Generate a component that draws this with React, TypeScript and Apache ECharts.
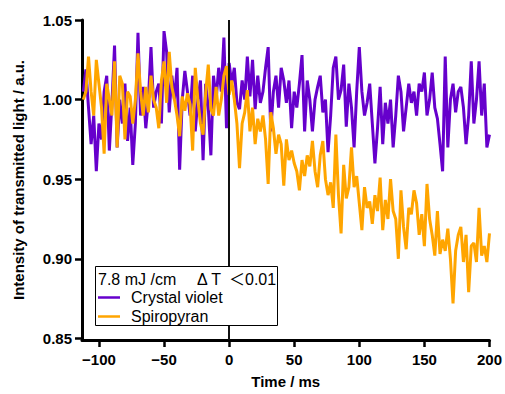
import React, { useEffect, useRef } from "react";
import * as echarts from "echarts";

// Sample times (ms)
const times: number[] = [
  -112, -110, -108, -106, -104, -102, -100, -98, -96, -94,
  -92, -90, -88, -86, -84, -82, -80, -78, -76, -74,
  -72, -70, -68, -66, -64, -62, -60, -58, -56, -54,
  -52, -50, -48, -46, -44, -42, -40, -38, -36, -34,
  -32, -30, -28, -26, -24, -22, -20, -18, -16, -14,
  -12, -10, -8, -6, -4, -2, 0, 2, 4, 6,
  8, 10, 12, 14, 16, 18, 20, 22, 24, 26,
  28, 30, 32, 34, 36, 38, 40, 42, 44, 46,
  48, 50, 52, 54, 56, 58, 60, 62, 64, 66,
  68, 70, 72, 74, 76, 78, 80, 82, 84, 86,
  88, 90, 92, 94, 96, 98, 100, 102, 104, 106,
  108, 110, 112, 114, 116, 118, 120, 122, 124, 126,
  128, 130, 132, 134, 136, 138, 140, 142, 144, 146,
  148, 150, 152, 154, 156, 158, 160, 162, 164, 166,
  168, 170, 172, 174, 176, 178, 180, 182, 184, 186,
  188, 190, 192, 194, 196, 198, 200,
];

const crystalViolet: number[] = [
  1.005, 1.019, 0.995, 0.972, 0.990, 0.955, 0.985, 0.975, 1.005, 1.015,
  0.968, 0.998, 1.034, 0.970, 1.000, 0.985, 1.010, 0.974, 0.995, 0.959,
  0.985, 1.042, 0.990, 1.008, 0.982, 1.000, 1.033, 0.995, 1.005, 1.010,
  0.985, 1.043, 1.030, 0.992, 1.015, 1.000, 1.020, 0.956, 1.000, 1.018,
  1.005, 0.990, 1.015, 0.980, 1.000, 1.012, 0.962, 1.010, 0.995, 0.965,
  1.015, 1.000, 1.020, 1.005, 1.039, 0.982, 1.023, 1.010, 1.020, 0.998,
  0.994, 1.012, 1.000, 1.027, 1.002, 1.025, 0.994, 1.015, 0.998, 1.005,
  1.020, 1.033, 0.980, 1.005, 1.015, 0.995, 1.020, 1.012, 0.998, 1.012,
  0.982, 1.005, 0.995, 1.010, 1.028, 0.980, 1.012, 1.000, 0.980, 1.000,
  1.008, 1.015, 0.992, 1.000, 0.967, 0.990, 1.020, 1.027, 1.000, 1.006,
  1.022, 0.983, 1.010, 0.995, 0.970, 1.005, 1.033, 1.005, 0.990, 0.998,
  1.010, 0.985, 0.960, 0.982, 1.008, 0.972, 0.998, 0.985, 1.000, 0.970,
  0.990, 1.015, 1.005, 0.980, 0.995, 1.010, 0.998, 1.005, 0.990, 1.010,
  1.005, 1.017, 0.990, 1.000, 1.017, 0.995, 0.988, 0.972, 0.955, 1.027,
  0.970, 1.000, 1.010, 0.992, 1.005, 1.008, 0.995, 0.972, 0.990, 1.024,
  0.985, 1.000, 1.024, 0.990, 1.010, 0.970, 0.978,
];

const spiropyran: number[] = [
  1.000, 1.005, 1.027, 1.005, 0.990, 1.025, 1.010, 0.995, 0.966, 1.010,
  1.000, 0.990, 1.024, 0.970, 1.015, 1.010, 0.975, 1.005, 1.002, 0.985,
  1.000, 1.029, 1.005, 0.990, 1.008, 0.992, 1.015, 1.000, 0.995, 0.982,
  1.012, 1.024, 0.998, 1.030, 1.008, 1.000, 0.990, 0.977, 1.002, 0.993,
  1.004, 0.997, 0.968, 1.020, 1.000, 0.985, 0.978, 1.004, 1.022, 0.994,
  0.990, 1.008, 0.990, 1.000, 1.015, 1.021, 1.003, 1.012, 1.000, 0.985,
  0.957, 0.985, 0.992, 1.006, 0.980, 0.995, 0.972, 0.988, 0.980, 0.990,
  0.975, 0.947, 0.992, 0.982, 0.966, 0.978, 0.972, 0.946, 0.975, 0.962,
  0.968, 0.960, 0.955, 0.943, 0.962, 0.952, 0.965, 0.958, 0.974, 0.955,
  0.945, 0.965, 0.974, 0.950, 0.940, 0.948, 0.932, 0.978, 0.940, 0.916,
  0.959, 0.938, 0.945, 0.970, 0.945, 0.952, 0.935, 0.918, 0.945, 0.932,
  0.936, 0.922, 0.940, 0.930, 0.951, 0.918, 0.937, 0.925, 0.950, 0.930,
  0.925, 0.900, 0.943, 0.920, 0.906, 0.932, 0.928, 0.943, 0.935, 0.915,
  0.928, 0.908, 0.947, 0.925, 0.915, 0.902, 0.930, 0.903, 0.912, 0.905,
  0.919, 0.900, 0.872, 0.905, 0.915, 0.920, 0.898, 0.915, 0.879, 0.908,
  0.910, 0.898, 0.932, 0.902, 0.908, 0.898, 0.916,
];

const xTicks: number[] = [-100, -50, 0, 50, 100, 150, 200];
const yTicks: number[] = [0.85, 0.9, 0.95, 1.0, 1.05];

const seriesNames = ["Crystal violet", "Spiropyran"];
const legendTitleParts = ["7.8 mJ /cm", "Δ T", "＜0.01"];
const xTitle = "Time / ms";
const yTitle = "Intensity of transmitted light / a.u.";

const FONT = "'Liberation Sans', Arial, 'Noto Sans CJK JP', sans-serif";

export default function App() {
  const ref = useRef<HTMLDivElement>(null);

  useEffect(() => {
    if (!ref.current) return;
    const chart = echarts.init(ref.current, undefined, { renderer: "svg" });
    const axisCommon = {
      axisLine: { show: true, onZero: false, lineStyle: { color: "#000", width: 3 } },
      splitLine: { show: false },
      nameTextStyle: { fontSize: 15, fontWeight: "bold", fontFamily: FONT, color: "#000" },
    };
    const legendText = (text: string, x: number) => ({
      type: "text",
      z: 16,
      x,
      y: 279,
      style: { text, fontSize: 16, fontFamily: FONT, fill: "#000", verticalAlign: "middle" },
    });
    chart.setOption({
      animation: false,
      backgroundColor: "#fff",
      grid: { left: 82, right: 15, top: 20, bottom: 49, containLabel: false },
      xAxis: {
        type: "value",
        min: -113,
        max: 200,
        ...axisCommon,
        name: xTitle,
        nameLocation: "middle",
        nameGap: 34,
        axisTick: { show: true, length: 7, lineStyle: { color: "#000", width: 2.5 }, customValues: xTicks },
        axisLabel: {
          customValues: xTicks,
          margin: 12,
          fontSize: 15,
          fontWeight: "bold",
          fontFamily: FONT,
          color: "#000",
          formatter: (v: number) => String(v).replace("-", "\u2212"),
        },
      },
      yAxis: {
        type: "value",
        min: 0.849,
        max: 1.05,
        ...axisCommon,
        name: yTitle,
        nameLocation: "middle",
        nameGap: 56,
        axisTick: { show: true, length: 7, lineStyle: { color: "#000", width: 2.5 }, customValues: yTicks },
        axisLabel: {
          customValues: yTicks,
          margin: 10,
          fontSize: 15,
          fontWeight: "bold",
          fontFamily: FONT,
          color: "#000",
          formatter: (v: number) => v.toFixed(2),
        },
      },
      legend: {
        left: 98,
        top: 288,
        orient: "vertical",
        itemGap: 0,
        itemWidth: 22,
        itemHeight: 2.5,
        icon: "rect",
        padding: 0,
        z: 20,
        textStyle: { fontSize: 16, fontFamily: FONT, color: "#000", lineHeight: 19, padding: [0, 0, 0, 6] },
        data: seriesNames,
      },
      graphic: [
        {
          type: "rect",
          z: 15,
          shape: { x: 95.5, y: 266.5, width: 182, height: 59 },
          style: { fill: "#fff", stroke: "#000", lineWidth: 1 },
        },
        legendText(legendTitleParts[0], 98),
        legendText(legendTitleParts[1], 197),
        legendText(legendTitleParts[2], 229),
      ],
      series: [
        {
          name: seriesNames[0],
          type: "line",
          showSymbol: false,
          data: times.map((t, i) => [t, crystalViolet[i]]),
          lineStyle: { color: "#6600cc", width: 3 },
          itemStyle: { color: "#6600cc" },
          z: 2,
        },
        {
          name: seriesNames[1],
          type: "line",
          showSymbol: false,
          data: times.map((t, i) => [t, spiropyran[i]]),
          lineStyle: { color: "#ffa500", width: 3 },
          itemStyle: { color: "#ffa500" },
          z: 3,
          markLine: {
            silent: true,
            symbol: "none",
            label: { show: false },
            lineStyle: { color: "#111", width: 2, type: "solid" },
            data: [{ xAxis: 0 }],
          },
        },
      ],
    });
    return () => chart.dispose();
  }, []);

  return (
    <div
      ref={ref}
      style={{ position: "fixed", left: 0, top: 0, width: 505, height: 394, background: "#fff" }}
    />
  );
}
